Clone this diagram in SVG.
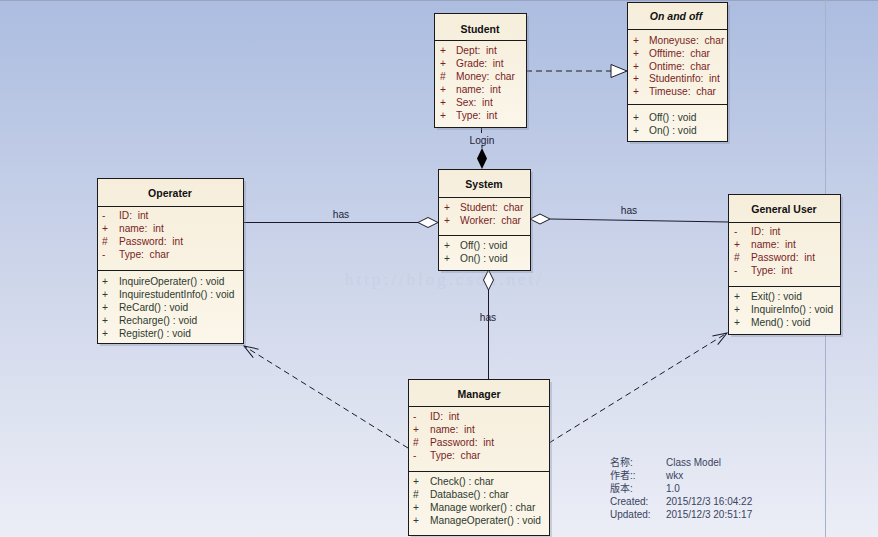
<svg xmlns="http://www.w3.org/2000/svg" width="878" height="537" viewBox="0 0 878 537">
<defs>
<linearGradient id="bg" x1="0" y1="0" x2="0" y2="1">
<stop offset="0" stop-color="#acbde0"/>
<stop offset="0.5" stop-color="#cdd5ea"/>
<stop offset="1" stop-color="#eceef6"/>
</linearGradient>
<linearGradient id="box" x1="0" y1="0" x2="0" y2="1">
<stop offset="0" stop-color="#f6eedb"/>
<stop offset="1" stop-color="#fbf6ea"/>
</linearGradient>
<marker id="open" markerWidth="16" markerHeight="12" refX="15" refY="6" orient="auto" markerUnits="userSpaceOnUse">
<path d="M1,1 L15,6 L1,11" fill="none" stroke="#1a1a2a" stroke-width="1"/>
</marker>
</defs>
<style>
.cls{fill:url(#box);stroke:#1a1a1a;stroke-width:1}
.sh{fill:#8890a8;opacity:0.35}
.div{stroke:#1a1a1a;stroke-width:1}
text{font-family:"Liberation Sans",Arial,sans-serif;font-size:10.2px;white-space:pre}
.t{font-weight:bold;font-size:10.5px;fill:#111;text-anchor:middle}
.ti{font-weight:bold;font-style:italic;font-size:10.5px;fill:#111;text-anchor:middle}
.a{fill:#7a1e1e}
.m{fill:#2e3a2e}
.lbl{fill:#1e2438;text-anchor:middle}
.ln{stroke:#1a1a2a;stroke-width:1;fill:none}
.dash{stroke:#1a1a2a;stroke-width:1;fill:none;stroke-dasharray:6,4}
.meta{fill:#3a4360;font-family:"Liberation Sans","Noto Sans CJK SC",sans-serif;font-size:10px}
.wm{fill:#c9d0e5;font-family:"Liberation Serif",serif;font-size:17px;letter-spacing:3px}
</style>
<rect x="0" y="0" width="878" height="537" fill="url(#bg)"/>
<line x1="0" y1="0.5" x2="878" y2="0.5" stroke="#9aa4c0"/>
<line x1="825.5" y1="0" x2="825.5" y2="537" stroke="#a7b1cc"/>
<text class="wm" x="345" y="285">http://blog.csdn.net/</text>

<g id="connectors">
<line class="dash" x1="526" y1="71" x2="611" y2="71"/>
<polygon points="611,64.5 627,71 611,77.5" fill="#ffffff" stroke="#1a1a2a"/>
<line class="ln" x1="481.5" y1="127" x2="481.5" y2="133"/>
<line class="ln" x1="482" y1="145" x2="482" y2="148"/>
<polygon points="482,148 487,158.5 482,169 477,158.5" fill="#000"/>
<text class="lbl" x="482" y="144">Login</text>
<line class="ln" x1="243" y1="222.5" x2="418" y2="222.5"/>
<polygon points="418,222.5 428,217.5 438,222.5 428,227.5" fill="#ffffff" stroke="#1a1a2a"/>
<text class="lbl" x="341" y="218">has</text>
<line class="ln" x1="550" y1="219" x2="728" y2="222"/>
<polygon points="530,219 540,214 550,219 540,224" fill="#ffffff" stroke="#1a1a2a"/>
<text class="lbl" x="629" y="214">has</text>
<line class="ln" x1="488.5" y1="290" x2="488.5" y2="379"/>
<polygon points="488.5,270 493.5,280 488.5,290 483.5,280" fill="#ffffff" stroke="#1a1a2a"/>
<text class="lbl" x="488" y="321">has</text>
<line class="dash" x1="408" y1="448" x2="244" y2="346" marker-end="url(#open)"/>
<line class="dash" x1="549" y1="443" x2="727" y2="333" marker-end="url(#open)"/>
</g>

<g id="student">
<rect class="sh" x="437" y="16" width="92" height="114"/>
<rect class="cls" x="434.5" y="13.5" width="92" height="114"/>
<text class="t" x="480" y="33">Student</text>
<line class="div" x1="434.5" y1="40.5" x2="526.5" y2="40.5"/>
<g class="a">
<text x="440" y="54">+</text><text x="456" y="54">Dept:  int</text>
<text x="440" y="67">+</text><text x="456" y="67">Grade:  int</text>
<text x="440" y="80">#</text><text x="456" y="80">Money:  char</text>
<text x="440" y="93">+</text><text x="456" y="93">name:  int</text>
<text x="440" y="106">+</text><text x="456" y="106">Sex:  int</text>
<text x="440" y="119">+</text><text x="456" y="119">Type:  int</text>
</g>
</g>

<g id="onandoff">
<rect class="sh" x="630" y="5" width="100" height="139"/>
<rect class="cls" x="627.5" y="2.5" width="100" height="139"/>
<text class="ti" x="676" y="20">On and off</text>
<line class="div" x1="627.5" y1="29.5" x2="727.5" y2="29.5"/>
<g class="a">
<text x="633" y="44">+</text><text x="649" y="44">Moneyuse:  char</text>
<text x="633" y="57">+</text><text x="649" y="57">Offtime:  char</text>
<text x="633" y="70">+</text><text x="649" y="70">Ontime:  char</text>
<text x="633" y="82">+</text><text x="649" y="82">Studentinfo:  int</text>
<text x="633" y="95">+</text><text x="649" y="95">Timeuse:  char</text>
</g>
<line class="div" x1="627.5" y1="104.5" x2="727.5" y2="104.5"/>
<g class="m">
<text x="633" y="121">+</text><text x="649" y="121">Off() : void</text>
<text x="633" y="134">+</text><text x="649" y="134">On() : void</text>
</g>
</g>

<g id="operater">
<rect class="sh" x="100" y="181" width="146" height="165"/>
<rect class="cls" x="97.5" y="178.5" width="146" height="165"/>
<text class="t" x="170" y="197">Operater</text>
<line class="div" x1="97.5" y1="206.5" x2="243.5" y2="206.5"/>
<g class="a">
<text x="102" y="219">-</text><text x="119" y="219">ID:  int</text>
<text x="102" y="232">+</text><text x="119" y="232">name:  int</text>
<text x="102" y="245">#</text><text x="119" y="245">Password:  int</text>
<text x="102" y="258">-</text><text x="119" y="258">Type:  char</text>
</g>
<line class="div" x1="97.5" y1="270.5" x2="243.5" y2="270.5"/>
<g class="m">
<text x="102" y="285">+</text><text x="119" y="285">InquireOperater() : void</text>
<text x="102" y="298">+</text><text x="119" y="298">InquirestudentInfo() : void</text>
<text x="102" y="311">+</text><text x="119" y="311">ReCard() : void</text>
<text x="102" y="324">+</text><text x="119" y="324">Recharge() : void</text>
<text x="102" y="337">+</text><text x="119" y="337">Register() : void</text>
</g>
</g>

<g id="system">
<rect class="sh" x="441" y="172" width="92" height="101"/>
<rect class="cls" x="438.5" y="169.5" width="92" height="101"/>
<text class="t" x="484" y="188">System</text>
<line class="div" x1="438.5" y1="197.5" x2="530.5" y2="197.5"/>
<g class="a">
<text x="444" y="211">+</text><text x="460" y="211">Student:  char</text>
<text x="444" y="224">+</text><text x="460" y="224">Worker:  char</text>
</g>
<line class="div" x1="438.5" y1="235.5" x2="530.5" y2="235.5"/>
<g class="m">
<text x="444" y="249">+</text><text x="460" y="249">Off() : void</text>
<text x="444" y="262">+</text><text x="460" y="262">On() : void</text>
</g>
</g>

<g id="generaluser">
<rect class="sh" x="731" y="197" width="112" height="140"/>
<rect class="cls" x="728.5" y="194.5" width="112" height="140"/>
<text class="t" x="784" y="213">General User</text>
<line class="div" x1="728.5" y1="222.5" x2="840.5" y2="222.5"/>
<g class="a">
<text x="734" y="235">-</text><text x="751" y="235">ID:  int</text>
<text x="734" y="248">+</text><text x="751" y="248">name:  int</text>
<text x="734" y="261">#</text><text x="751" y="261">Password:  int</text>
<text x="734" y="274">-</text><text x="751" y="274">Type:  int</text>
</g>
<line class="div" x1="728.5" y1="286.5" x2="840.5" y2="286.5"/>
<g class="m">
<text x="734" y="300">+</text><text x="751" y="300">Exit() : void</text>
<text x="734" y="313">+</text><text x="751" y="313">InquireInfo() : void</text>
<text x="734" y="326">+</text><text x="751" y="326">Mend() : void</text>
</g>
</g>

<g id="manager">
<rect class="sh" x="411" y="382" width="141" height="156"/>
<rect class="cls" x="408.5" y="379.5" width="141" height="156"/>
<text class="t" x="479" y="398">Manager</text>
<line class="div" x1="408.5" y1="406.5" x2="549.5" y2="406.5"/>
<g class="a">
<text x="413" y="420">-</text><text x="430" y="420">ID:  int</text>
<text x="413" y="433">+</text><text x="430" y="433">name:  int</text>
<text x="413" y="446">#</text><text x="430" y="446">Password:  int</text>
<text x="413" y="459">-</text><text x="430" y="459">Type:  char</text>
</g>
<line class="div" x1="408.5" y1="471.5" x2="549.5" y2="471.5"/>
<g class="m">
<text x="413" y="485">+</text><text x="430" y="485">Check() : char</text>
<text x="413" y="498">#</text><text x="430" y="498">Database() : char</text>
<text x="413" y="511">+</text><text x="430" y="511">Manage worker() : char</text>
<text x="413" y="524">+</text><text x="430" y="524">ManageOperater() : void</text>
</g>
</g>

<g id="metadata">
<text class="meta" x="610" y="466">名称:</text><text class="meta" x="666" y="466">Class Model</text>
<text class="meta" x="610" y="479">作者::</text><text class="meta" x="666" y="479">wkx</text>
<text class="meta" x="610" y="492">版本:</text><text class="meta" x="666" y="492">1.0</text>
<text class="meta" x="610" y="505">Created:</text><text class="meta" x="666" y="505">2015/12/3 16:04:22</text>
<text class="meta" x="610" y="518">Updated:</text><text class="meta" x="666" y="518">2015/12/3 20:51:17</text>
</g>
</svg>
